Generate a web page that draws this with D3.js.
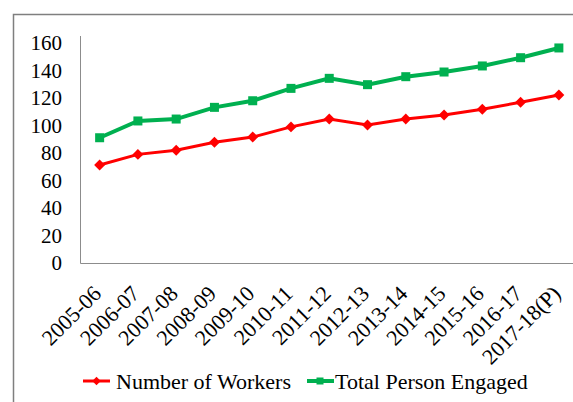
<!DOCTYPE html>
<html><head><meta charset="utf-8">
<script src="https://cdn.jsdelivr.net/npm/d3@7"></script>
<style>body{margin:0;background:#fff}svg{display:block}</style>
</head><body>
<script>
const categories = ["2005-06","2006-07","2007-08","2008-09","2009-10","2010-11","2011-12","2012-13","2013-14","2014-15","2015-16","2016-17","2017-18(P)"];
const workers = [71.3, 79, 82, 87.8, 91.6, 99, 104.7, 100.4, 104.7, 107.6, 111.8, 116.9, 122.2];
const totalEngaged = [91.1, 103.3, 104.7, 113.2, 118, 127, 134.3, 129.7, 135.5, 138.9, 143.3, 149.3, 156.4];
const yTicks = [0,20,40,60,80,100,120,140,160];
const seriesNames = ["Number of Workers","Total Person Engaged"];

const W = 573, H = 402;
const FONT = '"Liberation Serif"';
const svg = d3.select("body").append("svg").attr("width", W).attr("height", H);

// outer border (cut off at right/bottom)
svg.append("rect").attr("x", 13.5).attr("y", 14.5).attr("width", 600).attr("height", 420)
  .attr("fill", "none").attr("stroke", "#7f7f7f").attr("stroke-width", 1.5);

const x = d3.scaleBand().domain(categories).range([80.5, 578]);
const y = d3.scaleLinear().domain([0, 160]).range([263, 43]);

// axes lines
svg.append("line").attr("x1", 80.5).attr("x2", 80.5).attr("y1", 36).attr("y2", 263.5).attr("stroke", "#8c8c8c").attr("stroke-width", 1);
svg.append("line").attr("x1", 80.5).attr("x2", 573).attr("y1", 263.5).attr("y2", 263.5).attr("stroke", "#8c8c8c").attr("stroke-width", 1);

// y tick labels
svg.append("g").selectAll("text").data(yTicks).join("text")
  .attr("x", 62).attr("y", d => y(d)).attr("dy", "0.35em")
  .attr("text-anchor", "end").style("font-family", FONT).style("font-size", "21px").attr("fill", "#000")
  .text(d => d);

// x tick labels
svg.append("g").selectAll("text").data(categories).join("text")
  .attr("transform", d => `translate(${x(d) + x.bandwidth()/2 + 3},${295}) rotate(-45)`)
  .attr("text-anchor", "end").style("font-family", FONT).style("font-size", "22px").attr("fill", "#000")
  .text(d => d);

const cx = (d, i) => x(categories[i]) + x.bandwidth()/2;
const line = d3.line().x((d, i) => cx(d, i)).y(d => y(d));

const red = "#ff0000", green = "#00b050";
svg.append("path").datum(totalEngaged).attr("d", line).attr("fill", "none").attr("stroke", green).attr("stroke-width", 4);
svg.append("path").datum(workers).attr("d", line).attr("fill", "none").attr("stroke", red).attr("stroke-width", 3);

svg.append("g").selectAll("rect").data(totalEngaged).join("rect")
  .attr("x", (d, i) => cx(d, i) - 4.5).attr("y", d => y(d) - 4.5).attr("width", 9).attr("height", 9).attr("fill", green);
svg.append("g").selectAll("path").data(workers).join("path")
  .attr("d", d3.symbol(d3.symbolSquare, 60))
  .attr("transform", (d, i) => `translate(${cx(d, i)},${y(d)}) rotate(45)`).attr("fill", red);

// legend
const lg = svg.append("g");
lg.append("line").attr("x1", 83).attr("x2", 110).attr("y1", 381).attr("y2", 381).attr("stroke", red).attr("stroke-width", 3);
lg.append("path").attr("d", d3.symbol(d3.symbolSquare, 36)).attr("transform", "translate(96.5,381) rotate(45)").attr("fill", red);
lg.append("text").attr("x", 116).attr("y", 381).attr("dy", "0.35em").style("font-family", FONT).style("font-size", "22px").text(seriesNames[0]);
lg.append("line").attr("x1", 307).attr("x2", 334).attr("y1", 381).attr("y2", 381).attr("stroke", green).attr("stroke-width", 4);
lg.append("rect").attr("x", 316.5).attr("y", 377.5).attr("width", 7).attr("height", 7).attr("fill", green);
lg.append("text").attr("x", 335).attr("y", 381).attr("dy", "0.35em").style("font-family", FONT).style("font-size", "22px").text(seriesNames[1]);
</script>
</body></html>
